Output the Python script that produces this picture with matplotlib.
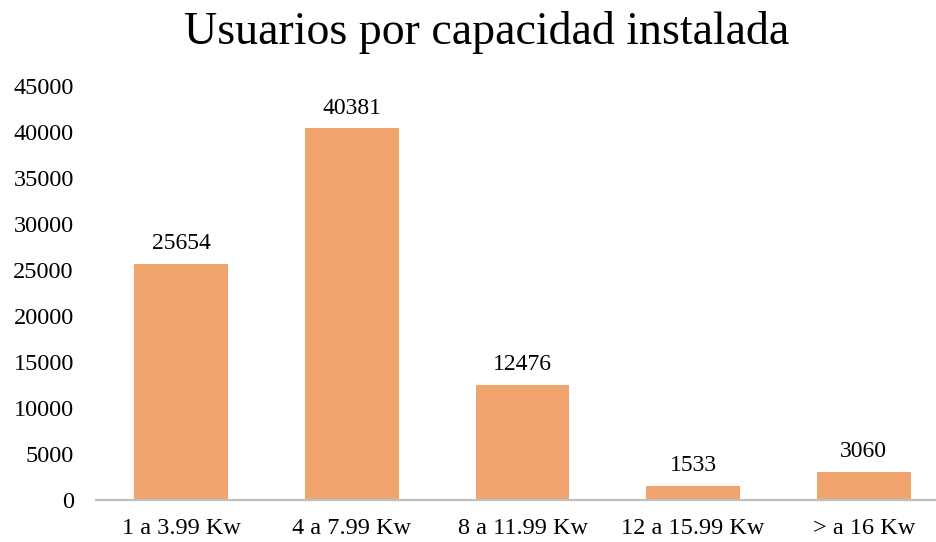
import matplotlib

matplotlib.use("Agg")
import matplotlib.pyplot as plt

categories = ["1 a 3.99 Kw", "4 a 7.99 Kw", "8 a 11.99 Kw", "12 a 15.99 Kw", "> a 16 Kw"]
usuarios = [25654, 40381, 12476, 1533, 3060]
yticks = list(range(0, 45001, 5000))

plt.rcParams["font.family"] = ["Liberation Serif", "DejaVu Serif"]

fig = plt.figure(figsize=(9.36, 5.42), dpi=100)
ax = fig.add_axes([96 / 936, 1 - 500 / 542, 853 / 936, 414 / 542])

x = range(len(categories))
bars = ax.bar(x, usuarios, width=0.55, color="#F0A56F", zorder=2)
for b, v in zip(bars, usuarios):
    ax.annotate(str(v), (b.get_x() + b.get_width() / 2, v),
                xytext=(0, 7), textcoords="offset points",
                ha="center", va="bottom", fontsize=17)

ax.set_xlim(-0.5, len(categories) - 0.5)
ax.set_ylim(0, 45000)
ax.set_yticks(yticks)
ax.set_yticklabels([str(t) for t in yticks], fontsize=17.5)
ax.set_xticks(list(x))
ax.set_xticklabels(categories, fontsize=17.5)
ax.tick_params(axis="y", length=0, pad=16)
ax.tick_params(axis="x", length=0, pad=13)

for side in ("top", "right", "left"):
    ax.spines[side].set_visible(False)
ax.spines["bottom"].set_color("#BFBFBF")
ax.spines["bottom"].set_linewidth(1.6)

fig.text(487 / 936, 1 - 33 / 542, "Usuarios por capacidad instalada",
         ha="center", va="center", fontsize=33)

fig.savefig("out.png", dpi=100)
